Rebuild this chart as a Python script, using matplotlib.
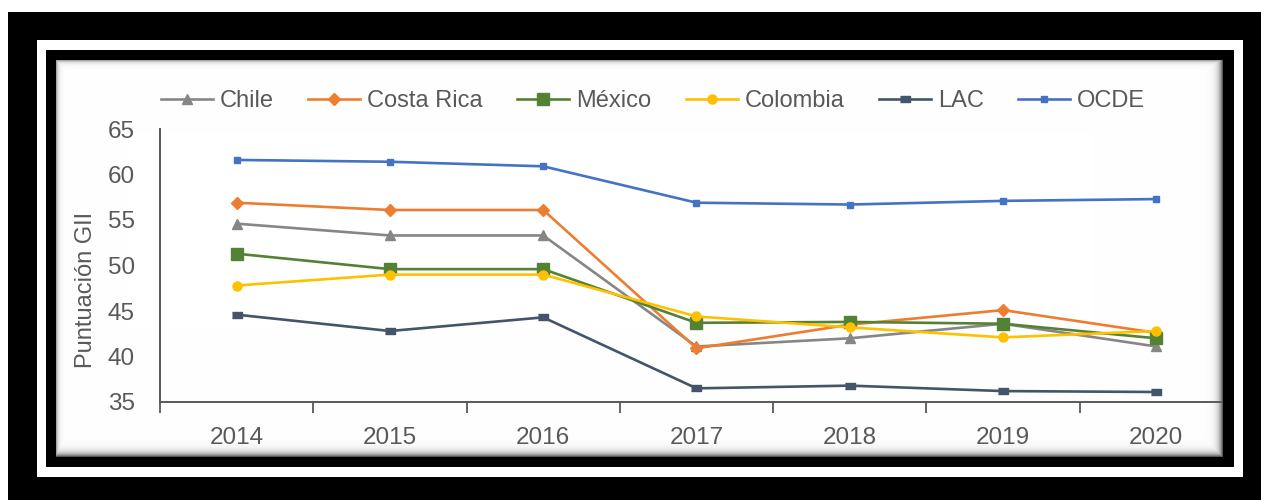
import numpy as np
import matplotlib
matplotlib.use("Agg")
from matplotlib import pyplot as plt

# GII scores by year
years = ["2014", "2015", "2016", "2017", "2018", "2019", "2020"]
chile = [54.6, 53.3, 53.3, 41.1, 42.0, 43.6, 41.1]
costa_rica = [56.9, 56.1, 56.1, 40.9, 43.5, 45.1, 42.6]
mexico = [51.3, 49.6, 49.6, 43.7, 43.8, 43.6, 42.0]
colombia = [47.8, 49.0, 49.0, 44.4, 43.2, 42.1, 42.8]
lac = [44.6, 42.8, 44.3, 36.5, 36.8, 36.2, 36.1]
ocde = [61.6, 61.4, 60.9, 56.9, 56.7, 57.1, 57.3]

TEXT = "#595959"
W, H = 1261, 500


def frame_background():
    """black/white border with a soft shadow around the white panel"""
    bg = np.ones((H, W, 3))
    bg[12:, 8:] = 0
    bg[40:477, 37:1243] = 1
    bg[50:467, 46:1234] = 0
    x0, x1, y0, y1 = 56, 1223, 60, 457
    yy, xx = np.mgrid[y0:y1, x0:x1]
    dark = np.maximum.reduce([
        0.65 * np.exp(-(x1 - 1 - xx) / 3.5),
        0.65 * np.exp(-(y1 - 1 - yy) / 3.5),
        0.35 * np.exp(-(xx - x0) / 2.0),
        0.35 * np.exp(-(yy - y0) / 2.0),
    ])
    bg[y0:y1, x0:x1] = (1 - dark)[..., None]
    return bg


fig = plt.figure(figsize=(W / 100, H / 100), dpi=100)
plt.rcParams["font.family"] = ["Liberation Sans", "DejaVu Sans"]
fig.figimage(frame_background(), xo=0, yo=0, origin="upper", zorder=-5)

ax = fig.add_axes([160 / W, 98 / H, (1222 - 160) / W, 273 / H])
ax.set_facecolor("none")

x = np.arange(len(years))
series = [
    ("Chile", chile, "#868686", "^", 7.5),
    ("Costa Rica", costa_rica, "#ED7D31", "D", 6.5),
    ("México", mexico, "#548235", "s", 8),
    ("Colombia", colombia, "#FFC000", "o", 6.5),
    ("LAC", lac, "#44546A", [(-1, -0.55), (1, -0.55), (1, 0.55), (-1, 0.55)], 7),
    ("OCDE", ocde, "#4472C4", "s", 4.5),
]
for name, vals, color, marker, ms in series:
    ax.plot(x, vals, color=color, lw=1.9, marker=marker, ms=ms,
            mec=color, mfc=color, label=name)

ax.set_ylim(35, 65)
ax.set_yticks(range(35, 66, 5))
ax.set_xlim(-0.5, 6.5 - 11 / 153.3)
ax.set_xticks(x)
ax.set_xticklabels(years)
ax.set_xticks(np.arange(-0.5, 6.0, 1.0), minor=True)
ax.tick_params(axis="x", which="major", length=0, pad=18, labelsize=17.5, labelcolor=TEXT)
ax.tick_params(axis="x", which="minor", length=8, width=1.3, color=TEXT)
ax.tick_params(axis="y", length=0, pad=18, labelsize=17.5, labelcolor=TEXT)
for side in ("top", "right"):
    ax.spines[side].set_visible(False)
for side in ("left", "bottom"):
    ax.spines[side].set_color(TEXT)
    ax.spines[side].set_linewidth(1.4)

fig.text(86 / W, 1 - 290 / H, "Puntuación GII", rotation=90, ha="center",
         va="center", fontsize=17, color=TEXT)

fig.legend(loc="center", bbox_to_anchor=(653 / W, 1 - 101 / H), ncol=6,
           frameon=False, fontsize=17, labelcolor=TEXT, handlelength=2.2,
           handletextpad=0.3, columnspacing=1.45, borderaxespad=0)

fig.savefig("out.png", dpi=100)
